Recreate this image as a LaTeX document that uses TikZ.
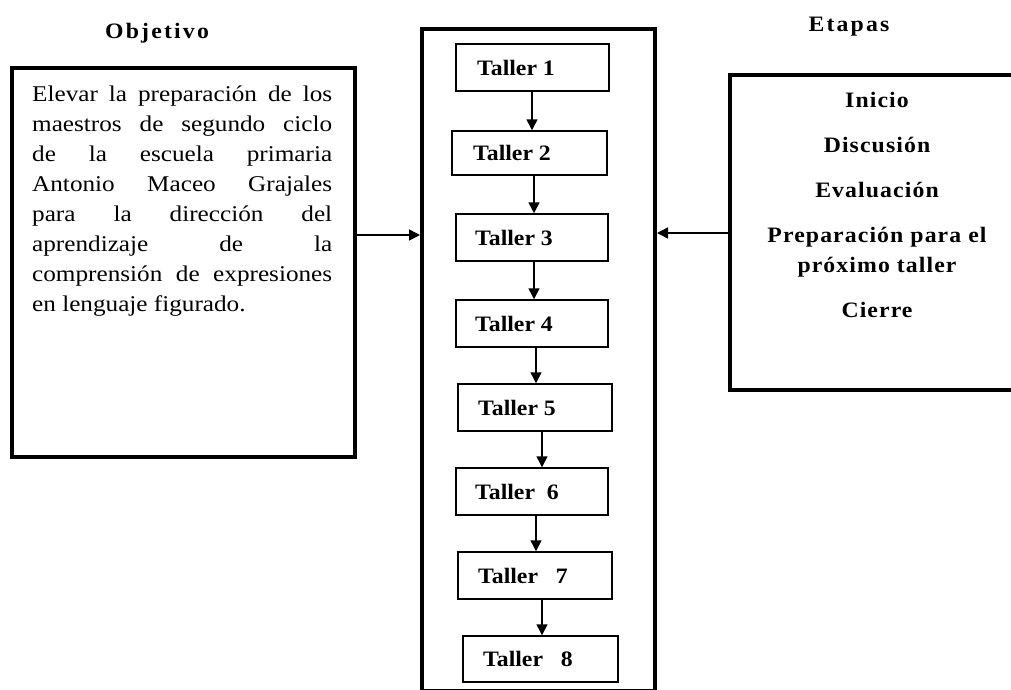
\documentclass[tikz,border=0pt]{standalone}
\usepackage{fontspec}
\setmainfont{Liberation Serif}
\newfontfamily\bodyfont[FakeStretch=1.12]{Liberation Serif}
\newfontfamily\labelfont[FakeStretch=1.08]{Liberation Serif}
\newfontfamily\headfont[FakeStretch=1.08,LetterSpace=10]{Liberation Serif}
\newfontfamily\stagefont[FakeStretch=1.08,LetterSpace=5]{Liberation Serif}
\usetikzlibrary{arrows.meta}
\begin{document}
\begin{tikzpicture}[x=1pt,y=-1pt,
  bigbox/.style={draw, line width=4pt, inner sep=0pt},
  tbox/.style={draw, line width=1.5pt, inner sep=0pt},
  tlabel/.style={anchor=west, inner sep=0pt, font=\labelfont\bfseries\fontsize{22}{24}\selectfont},
  arr/.style={line width=1.5pt, -{Triangle[length=11pt,width=11pt]}},
  heading/.style={inner sep=0pt, font=\headfont\bfseries\fontsize{22}{24}\selectfont}]
\useasboundingbox (0,0) rectangle (1011,689);

% headings
\node[heading] (hobj) at (157,33) {Objetivo};
\node[heading] (heta) at (849,27) {Etapas};

% big boxes
\node[bigbox, minimum width=343, minimum height=389] (obj) at (183.5,262.5) {};
\node[bigbox, minimum width=233, minimum height=662] (mid) at (538.5,360) {};
\node[bigbox, minimum width=290, minimum height=315] (eta) at (875,232.5) {};

% objective text
\node[anchor=north west, inner sep=0pt, align=left,
      font=\bodyfont\fontsize{22.5}{30}\selectfont] (objtext) at (32,86) {%
\makebox[300pt][s]{Elevar la preparación de los}\\
\makebox[300pt][s]{maestros de segundo ciclo}\\
\makebox[300pt][s]{de la escuela primaria}\\
\makebox[300pt][s]{Antonio Maceo Grajales}\\
\makebox[300pt][s]{para la dirección del}\\
\makebox[300pt][s]{aprendizaje de la}\\
\makebox[300pt][s]{comprensión de expresiones}\\
en lenguaje figurado.};

% stages text
\node[anchor=north, inner sep=0pt, align=center,
      font=\stagefont\bfseries\fontsize{22}{30}\selectfont] (stages) at (877,92) {%
Inicio\\[15pt]
Discusión\\[15pt]
Evaluación\\[15pt]
Preparación para el\\
próximo taller\\[15pt]
Cierre};

% taller boxes
\node[tbox, minimum width=153, minimum height=47] (t1) at (532.5,67.5) {};
\node[tbox, minimum width=155, minimum height=44] (t2) at (529.5,153) {};
\node[tbox, minimum width=152, minimum height=47] (t3) at (532,237.5) {};
\node[tbox, minimum width=152, minimum height=47] (t4) at (532,323.5) {};
\node[tbox, minimum width=154, minimum height=47] (t5) at (535,407.5) {};
\node[tbox, minimum width=152, minimum height=47] (t6) at (532,491.5) {};
\node[tbox, minimum width=154, minimum height=47] (t7) at (535,575.5) {};
\node[tbox, minimum width=155, minimum height=46] (t8) at (540.5,659) {};

\node[tlabel] (l1) at (477,67.5) {Taller 1};
\node[tlabel] (l2) at (473,153) {Taller 2};
\node[tlabel] (l3) at (475,237.5) {Taller 3};
\node[tlabel] (l4) at (475,323.5) {Taller 4};
\node[tlabel] (l5) at (478,407.5) {Taller 5};
\node[tlabel] (l6) at (475,491.5) {Taller~~6};
\node[tlabel] (l7) at (478,575.5) {Taller~~~7};
\node[tlabel] (l8) at (483,659) {Taller~~~8};

% arrow columns
\coordinate (a1) at (532,0);
\coordinate (a2) at (534,0);
\coordinate (a3) at (534,0);
\coordinate (a4) at (536,0);
\coordinate (a5) at (542,0);
\coordinate (a6) at (536,0);
\coordinate (a7) at (542,0);
\draw[arr] (t1.south -| a1) -- (t2.north -| a1);
\draw[arr] (t2.south -| a2) -- (t3.north -| a2);
\draw[arr] (t3.south -| a3) -- (t4.north -| a3);
\draw[arr] (t4.south -| a4) -- (t5.north -| a4);
\draw[arr] (t5.south -| a5) -- (t6.north -| a5);
\draw[arr] (t6.south -| a6) -- (t7.north -| a6);
\draw[arr] (t7.south -| a7) -- (t8.north -| a7);

% side arrows
\coordinate (yl) at (0,235);
\coordinate (yr) at (0,233);
\draw[arr] (obj.east |- yl) -- (mid.west |- yl);
\draw[arr] (eta.west |- yr) -- (mid.east |- yr);
\end{tikzpicture}
\end{document}
